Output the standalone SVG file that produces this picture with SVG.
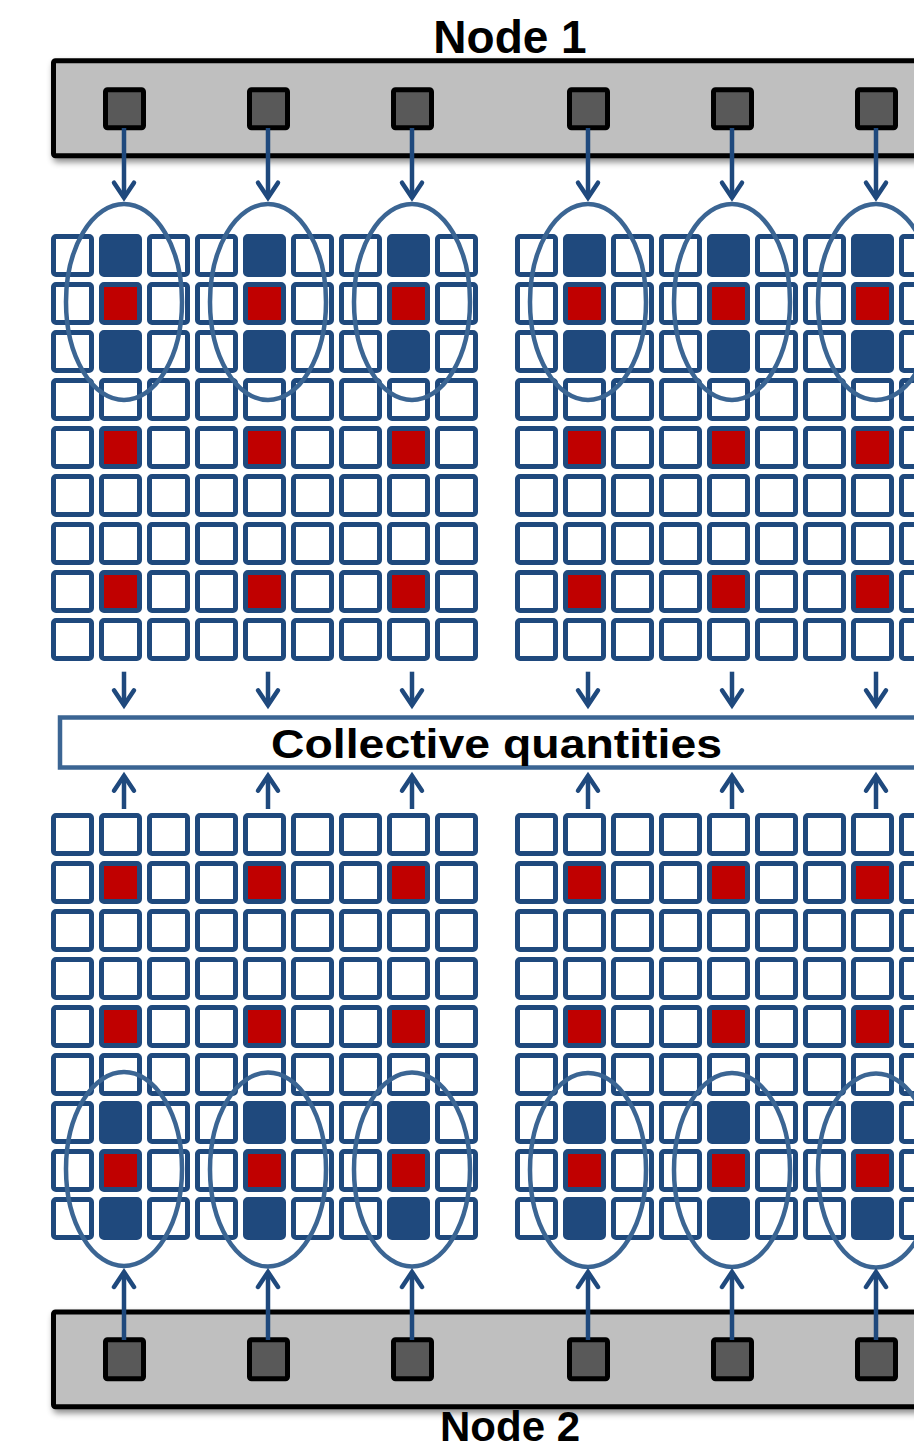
<svg xmlns="http://www.w3.org/2000/svg" xmlns:xlink="http://www.w3.org/1999/xlink" width="914" height="1450" viewBox="0 0 914 1450">
  <style>
    .bar { fill: #BFBFBF; stroke: #000; stroke-width: 5; }
    .chip { fill: #595959; stroke: #000; stroke-width: 5; }
    .cell { fill: #fff; stroke: #1F497D; stroke-width: 5; }
    .cell.b { fill: #1F497D; }
    .cell.r { fill: #C00000; }
    .ring { fill: none; stroke: #3B6593; stroke-width: 4.5; }
    .link { fill: none; stroke: #1F497D; stroke-width: 4.5; marker-end: url(#head); }
    .box { fill: #fff; stroke: #3B6593; stroke-width: 4.5; }
    .label { font-family: "Liberation Sans", Arial, sans-serif; font-weight: bold; fill: #000; }
  </style>
  <defs>
    <filter id="shadow" x="-5%" y="-20%" width="110%" height="150%">
      <feDropShadow dx="2" dy="4" stdDeviation="3" flood-color="#000" flood-opacity="0.45"/>
    </filter>
    <marker id="head" markerUnits="userSpaceOnUse" viewBox="-20 -14 26 28" markerWidth="26" markerHeight="28" refX="0" refY="0" orient="auto">
      <path d="M-15,-10 L0,0 L-15,10" fill="none" stroke="#1F497D" stroke-width="4.5" stroke-linecap="round" stroke-linejoin="miter"/>
    </marker>
    <!-- single cells: empty, blue, red -->
    <rect id="ce" class="cell" x="2.5" y="2.5" width="38" height="38" rx="2.5"/>
    <rect id="cb" class="cell b" x="2.5" y="2.5" width="38" height="38" rx="2.5"/>
    <rect id="cr" class="cell r" x="2.5" y="2.5" width="38" height="38" rx="2.5"/>
    <!-- rows of nine cells; marked cells sit in columns 1, 4 and 7 -->
    <g id="rowE">
      <use xlink:href="#ce" x="0"/><use xlink:href="#ce" x="48"/><use xlink:href="#ce" x="96"/>
      <use xlink:href="#ce" x="144"/><use xlink:href="#ce" x="192"/><use xlink:href="#ce" x="240"/>
      <use xlink:href="#ce" x="288"/><use xlink:href="#ce" x="336"/><use xlink:href="#ce" x="384"/>
    </g>
    <g id="rowR">
      <use xlink:href="#ce" x="0"/><use xlink:href="#cr" x="48"/><use xlink:href="#ce" x="96"/>
      <use xlink:href="#ce" x="144"/><use xlink:href="#cr" x="192"/><use xlink:href="#ce" x="240"/>
      <use xlink:href="#ce" x="288"/><use xlink:href="#cr" x="336"/><use xlink:href="#ce" x="384"/>
    </g>
    <g id="rowB">
      <use xlink:href="#ce" x="0"/><use xlink:href="#cb" x="48"/><use xlink:href="#ce" x="96"/>
      <use xlink:href="#ce" x="144"/><use xlink:href="#cb" x="192"/><use xlink:href="#ce" x="240"/>
      <use xlink:href="#ce" x="288"/><use xlink:href="#cb" x="336"/><use xlink:href="#ce" x="384"/>
    </g>
    <!-- full 9x9 blocks -->
    <g id="gridTop">
      <use xlink:href="#rowB" y="0"/><use xlink:href="#rowR" y="48"/><use xlink:href="#rowB" y="96"/>
      <use xlink:href="#rowE" y="144"/><use xlink:href="#rowR" y="192"/><use xlink:href="#rowE" y="240"/>
      <use xlink:href="#rowE" y="288"/><use xlink:href="#rowR" y="336"/><use xlink:href="#rowE" y="384"/>
    </g>
    <g id="gridBottom">
      <use xlink:href="#rowE" y="0"/><use xlink:href="#rowR" y="48"/><use xlink:href="#rowE" y="96"/>
      <use xlink:href="#rowE" y="144"/><use xlink:href="#rowR" y="192"/><use xlink:href="#rowE" y="240"/>
      <use xlink:href="#rowB" y="288"/><use xlink:href="#rowR" y="336"/><use xlink:href="#rowB" y="384"/>
    </g>
  </defs>

  <rect width="914" height="1450" fill="#fff"/>

  <!-- upper node with its six ports -->
  <g id="node1">
    <rect class="bar" x="53.5" y="60.8" width="900" height="95" rx="2" filter="url(#shadow)"/>
    <rect class="chip" x="105.5" y="89.8" width="38" height="38" rx="2"/>
    <rect class="chip" x="249.5" y="89.8" width="38" height="38" rx="2"/>
    <rect class="chip" x="393.5" y="89.8" width="38" height="38" rx="2"/>
    <rect class="chip" x="569.5" y="89.8" width="38" height="38" rx="2"/>
    <rect class="chip" x="713.5" y="89.8" width="38" height="38" rx="2"/>
    <rect class="chip" x="857.5" y="89.8" width="38" height="38" rx="2"/>
    <text class="label" x="510" y="52.5" font-size="46" text-anchor="middle">Node 1</text>
  </g>

  <!-- lower node with its six ports -->
  <g id="node2">
    <rect class="bar" x="53.5" y="1312" width="900" height="94.7" rx="2" filter="url(#shadow)"/>
    <rect class="chip" x="105.5" y="1339.8" width="38" height="39" rx="2"/>
    <rect class="chip" x="249.5" y="1339.8" width="38" height="39" rx="2"/>
    <rect class="chip" x="393.5" y="1339.8" width="38" height="39" rx="2"/>
    <rect class="chip" x="569.5" y="1339.8" width="38" height="39" rx="2"/>
    <rect class="chip" x="713.5" y="1339.8" width="38" height="39" rx="2"/>
    <rect class="chip" x="857.5" y="1339.8" width="38" height="39" rx="2"/>
    <text class="label" x="510" y="1441" font-size="42" text-anchor="middle">Node 2</text>
  </g>

  <!-- lattice blocks -->
  <g id="lattice-top-left"><use xlink:href="#gridTop" x="51" y="234"/></g>
  <g id="lattice-top-right"><use xlink:href="#gridTop" x="515" y="234"/></g>
  <g id="lattice-bottom-left"><use xlink:href="#gridBottom" x="51" y="813"/></g>
  <g id="lattice-bottom-right"><use xlink:href="#gridBottom" x="515" y="813"/></g>

  <!-- regions owned by each port -->
  <g id="regions-top">
    <ellipse class="ring" cx="124" cy="302" rx="58" ry="98"/>
    <ellipse class="ring" cx="268" cy="302" rx="58" ry="98"/>
    <ellipse class="ring" cx="412" cy="302" rx="58" ry="98"/>
    <ellipse class="ring" cx="588" cy="302" rx="58" ry="98"/>
    <ellipse class="ring" cx="732" cy="302" rx="58" ry="98"/>
    <ellipse class="ring" cx="876" cy="302" rx="58" ry="98"/>
  </g>
  <g id="regions-bottom">
    <ellipse class="ring" cx="124" cy="1169" rx="58" ry="97"/>
    <ellipse class="ring" cx="268" cy="1169.5" rx="58" ry="97"/>
    <ellipse class="ring" cx="412" cy="1169.5" rx="58" ry="97"/>
    <ellipse class="ring" cx="588" cy="1170" rx="58" ry="97"/>
    <ellipse class="ring" cx="732" cy="1170" rx="58" ry="97"/>
    <ellipse class="ring" cx="876" cy="1170.5" rx="58" ry="97"/>
  </g>

  <!-- shared result bar -->
  <g id="collective">
    <rect class="box" x="60" y="717.5" width="900" height="50"/>
    <text class="label" x="271" y="758" font-size="40" textLength="451" lengthAdjust="spacingAndGlyphs">Collective quantities</text>
  </g>

  <!-- connectors -->
  <g id="connectors">
    <!-- ports to regions -->
    <path class="link" d="M124,128 V197.7"/>
    <path class="link" d="M268,128 V197.7"/>
    <path class="link" d="M412,128 V197.7"/>
    <path class="link" d="M588,128 V197.7"/>
    <path class="link" d="M732,128 V197.7"/>
    <path class="link" d="M876,128 V197.7"/>
    <!-- upper lattice to collective bar -->
    <path class="link" d="M124,671.7 V705.3"/>
    <path class="link" d="M268,671.7 V705.3"/>
    <path class="link" d="M412,671.7 V705.3"/>
    <path class="link" d="M588,671.7 V705.3"/>
    <path class="link" d="M732,671.7 V705.3"/>
    <path class="link" d="M876,671.7 V705.3"/>
    <!-- lower lattice to collective bar -->
    <path class="link" d="M124,809 V775.7"/>
    <path class="link" d="M268,809 V775.7"/>
    <path class="link" d="M412,809 V775.7"/>
    <path class="link" d="M588,809 V775.7"/>
    <path class="link" d="M732,809 V775.7"/>
    <path class="link" d="M876,809 V775.7"/>
    <!-- lower ports to regions -->
    <path class="link" d="M124,1340 V1272"/>
    <path class="link" d="M268,1340 V1272"/>
    <path class="link" d="M412,1340 V1272"/>
    <path class="link" d="M588,1340 V1272"/>
    <path class="link" d="M732,1340 V1272"/>
    <path class="link" d="M876,1340 V1272"/>
  </g>
</svg>
